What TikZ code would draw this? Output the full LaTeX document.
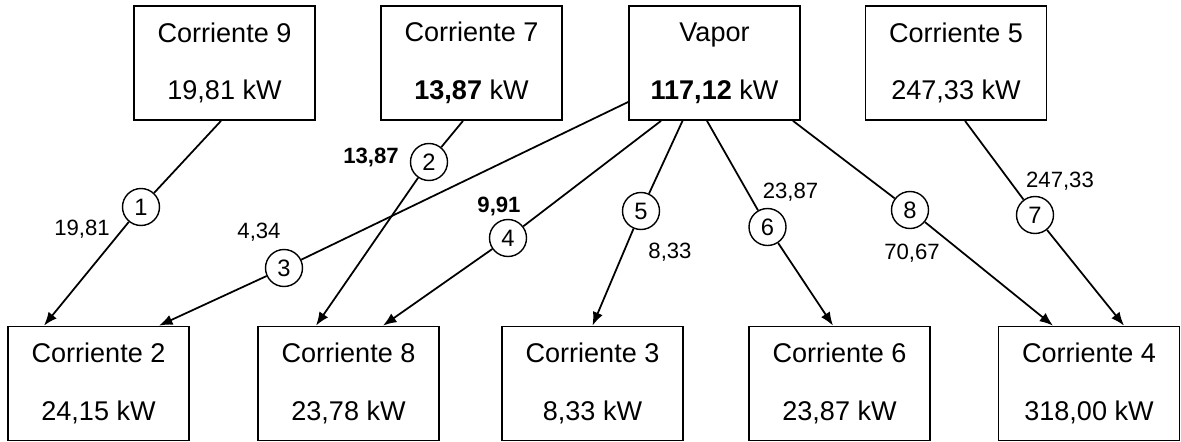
\documentclass[tikz,border=0pt]{standalone}
\usepackage{fontspec}
\setmainfont{Liberation Sans}
\usetikzlibrary{arrows.meta}

\begin{document}
\begin{tikzpicture}[
    >={Latex[length=0.27cm,width=0.21cm]},
    line width=1pt,
    box/.style={
        draw,
        minimum width=3.62cm,
        minimum height=2.28cm,
        align=center,
        font=\fontsize{15.4}{32.9}\selectfont
    },
    num/.style={
        draw,
        circle,
        line width=0.8pt,
        minimum size=0.74cm,
        inner sep=0pt,
        font=\fontsize{13.5}{15}\selectfont
    },
    val/.style={
        inner sep=0pt,
        font=\fontsize{12.6}{14}\selectfont
    }
]
\useasboundingbox (0,0) rectangle (23.62,8.82);

% sources
\node[box] (c9) at (4.49,7.56) {Corriente 9\\19,81 kW};
\node[box] (c7) at (9.43,7.56) {Corriente 7\\\textbf{13,87} kW};
\node[box, minimum width=3.42cm] (vap) at (14.29,7.56) {Vapor\\\textbf{117,12} kW};
\node[box] (c5) at (19.12,7.56) {Corriente 5\\247,33 kW};

% sinks
\node[box] (c2) at (1.97,1.15) {Corriente 2\\24,15 kW};
\node[box] (c8) at (6.97,1.15) {Corriente 8\\23,78 kW};
\node[box] (c3) at (11.85,1.15) {Corriente 3\\8,33 kW};
\node[box] (c6) at (16.79,1.15) {Corriente 6\\23,87 kW};
\node[box] (c4) at (21.78,1.15) {Corriente 4\\318,00 kW};

% numbered matches
\node[num] (n1) at (2.82,4.68) {1};
\node[num] (n2) at (8.58,5.58) {2};
\node[num] (n3) at (5.68,3.46) {3};
\node[num] (n4) at (10.16,4.06) {4};
\node[num] (n5) at (12.82,4.60) {5};
\node[num] (n6) at (15.35,4.28) {6};
\node[num] (n7) at (20.70,4.52) {7};
\node[num] (n8) at (18.20,4.62) {8};

% exchanged heat
\node[val] (l1) at (1.64,4.24) {19,81};
\node[val] (l2) at (7.42,5.68) {\textbf{13,87}};
\node[val] (l3) at (5.18,4.18) {4,34};
\node[val] (l4) at (9.98,4.70) {\textbf{9,91}};
\node[val] (l5) at (13.40,3.78) {8,33};
\node[val] (l6) at (15.81,4.98) {23,87};
\node[val] (l7) at (21.20,5.20) {247,33};
\node[val] (l8) at (18.24,3.76) {70,67};

\draw ([xshift=-0.07cm]c9.south) -- (n1);
\draw[->] (n1) -- ([xshift=-1.09cm]c2.north);
\draw ([xshift=-0.17cm]c7.south) -- (n2);
\draw[->] (n2) -- ([xshift=-0.65cm]c8.north);
\draw ([yshift=-0.78cm]vap.west) -- (n3);
\draw[->] (n3) -- ([xshift=1.21cm]c2.north);
\draw ([xshift=-1.07cm]vap.south) -- (n4);
\draw[->] (n4) -- ([xshift=0.69cm]c8.north);
\draw ([xshift=-0.64cm]vap.south) -- (n5);
\draw[->] (n5) -- (c3.north);
\draw ([xshift=-0.15cm]vap.south) -- (n6);
\draw[->] (n6) -- ([xshift=-0.13cm]c6.north);
\draw ([xshift=1.57cm]vap.south) -- (n8);
\draw[->] (n8) -- ([xshift=-0.72cm]c4.north);
\draw ([xshift=0.18cm]c5.south) -- (n7);
\draw[->] (n7) -- ([xshift=0.70cm]c4.north);
\end{tikzpicture}
\end{document}
